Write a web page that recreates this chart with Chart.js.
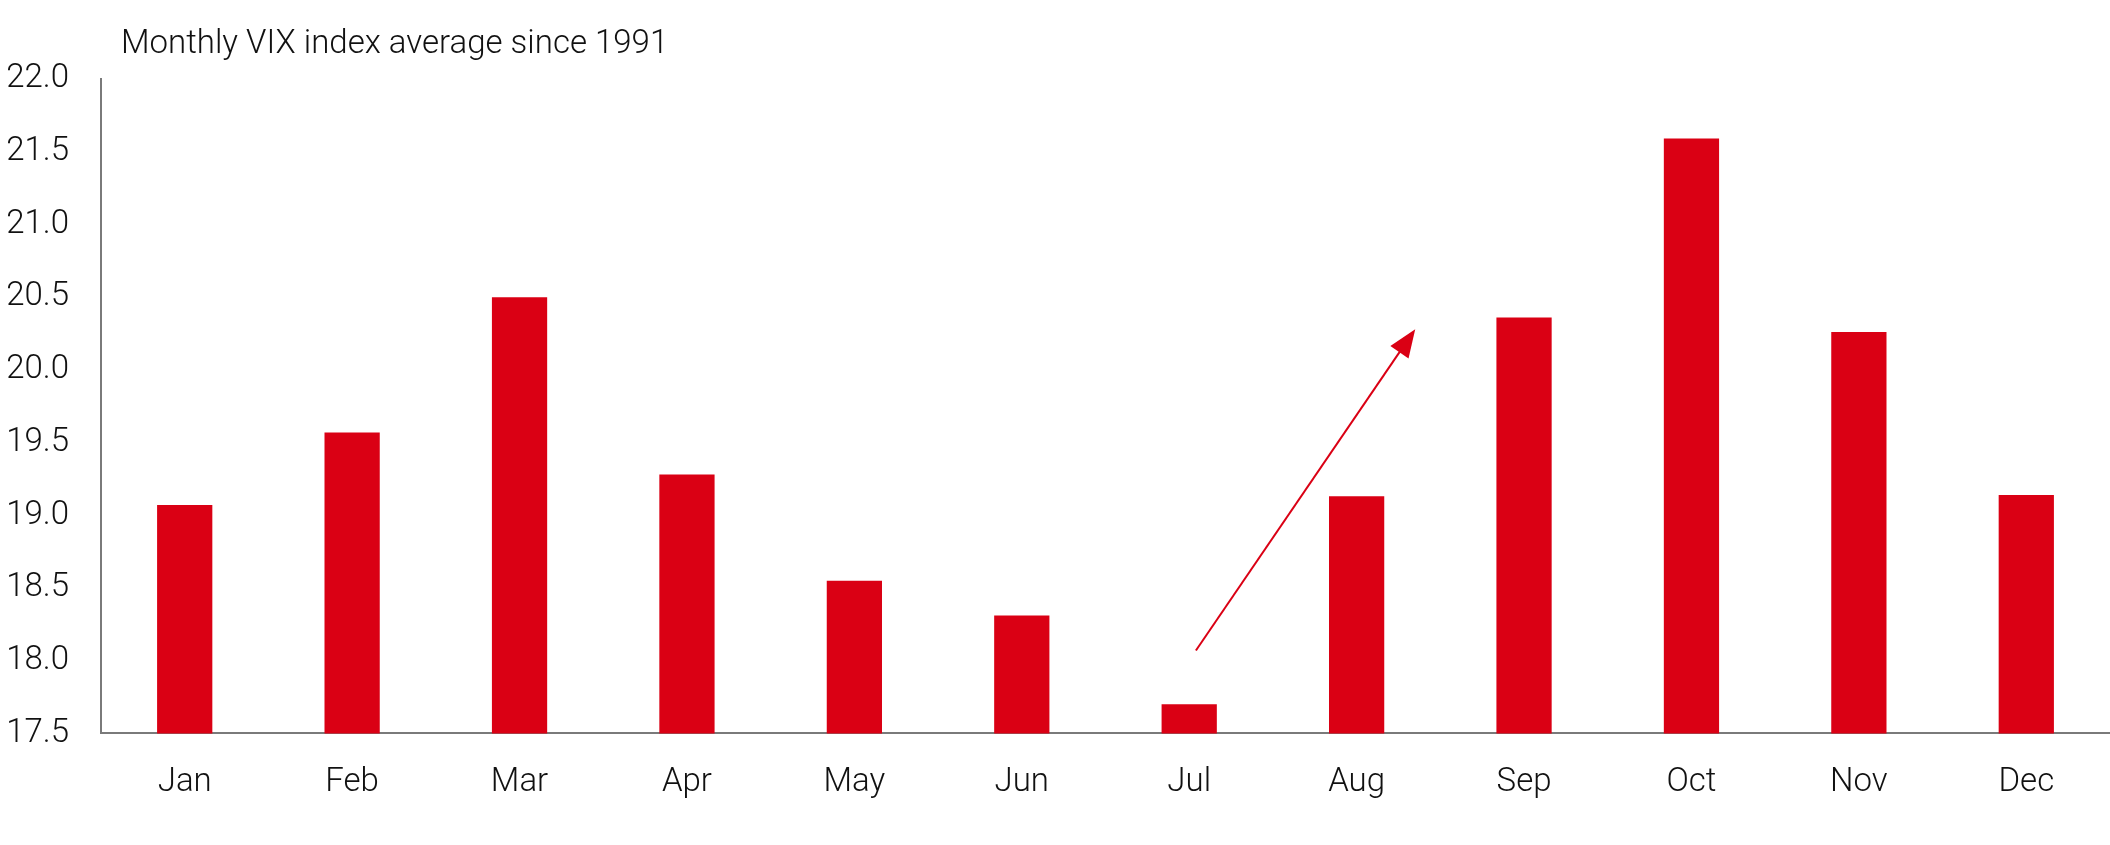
<!DOCTYPE html>
<html>
<head>
<meta charset="utf-8">
<script src="https://cdn.jsdelivr.net/npm/chart.js@4.4.1/dist/chart.umd.min.js"></script>
<style>
  body { margin: 0; background: #fff; }
  .wrap { position: relative; width: 2110px; height: 845px; }
  .title { position: absolute; left: 121px; top: 22px; font: 300 33px Roboto, "Liberation Sans", sans-serif; color: #111; }
  canvas { display: block; }
</style>
</head>
<body>
<div class="wrap">
  <div class="title">Monthly VIX index average since 1991</div>
  <canvas id="vix" width="2110" height="845"></canvas>
</div>
<script>
// monthly averages
const months = ['Jan','Feb','Mar','Apr','May','Jun','Jul','Aug','Sep','Oct','Nov','Dec'];
const vixAvg = [19.07, 19.57, 20.50, 19.28, 18.55, 18.31, 17.70, 19.13, 20.36, 21.59, 20.26, 19.14];
const yMin = 17.5, yMax = 22.0, yStep = 0.5;
// arrow annotation: [category index, value] start -> tip
const arrowFrom = [6.04, 18.07];
const arrowTo = [7.35, 20.28];

const red = '#DA0014';
const axisGrey = '#7a7a7a';
const font = { family: 'Roboto, "Liberation Sans", sans-serif', size: 33, weight: 300 };

const arrowPlugin = {
  id: 'arrow',
  afterDatasetsDraw(chart) {
    const { ctx, scales: { x, y } } = chart;
    const x0 = x.getPixelForValue(arrowFrom[0]), y0 = y.getPixelForValue(arrowFrom[1]);
    const x1 = x.getPixelForValue(arrowTo[0]), y1 = y.getPixelForValue(arrowTo[1]);
    const ang = Math.atan2(y1 - y0, x1 - x0);
    const head = 28, half = 11;
    ctx.save();
    ctx.strokeStyle = red;
    ctx.fillStyle = red;
    ctx.lineWidth = 2;
    ctx.beginPath();
    ctx.moveTo(x0, y0);
    ctx.lineTo(x1 - Math.cos(ang) * head * 0.8, y1 - Math.sin(ang) * head * 0.8);
    ctx.stroke();
    ctx.beginPath();
    ctx.moveTo(x1, y1);
    ctx.lineTo(x1 - Math.cos(ang) * head - Math.sin(ang) * half, y1 - Math.sin(ang) * head + Math.cos(ang) * half);
    ctx.lineTo(x1 - Math.cos(ang) * head + Math.sin(ang) * half, y1 - Math.sin(ang) * head - Math.cos(ang) * half);
    ctx.closePath();
    ctx.fill();
    ctx.restore();
  }
};

new Chart(document.getElementById('vix'), {
  type: 'bar',
  data: {
    labels: months,
    datasets: [{ data: vixAvg, backgroundColor: red, borderWidth: 0, categoryPercentage: 1, barPercentage: 0.33 }]
  },
  options: {
    responsive: false,
    animation: false,
    layout: { padding: { top: 79, right: 0, bottom: 12, left: 0 } },
    plugins: { legend: { display: false }, tooltip: { enabled: false } },
    scales: {
      x: {
        grid: { display: false, drawTicks: false },
        border: { display: true, color: axisGrey, width: 2 },
        ticks: { font: font, color: '#111', padding: 30 }
      },
      y: {
        min: yMin, max: yMax,
        afterFit(s) { s.width = 101; },
        grid: { display: false, drawTicks: false },
        border: { display: true, color: axisGrey, width: 2 },
        ticks: { stepSize: yStep, font: font, color: '#111', padding: 32, callback: v => v.toFixed(1) }
      }
    }
  },
  plugins: [arrowPlugin]
});
</script>
</body>
</html>
